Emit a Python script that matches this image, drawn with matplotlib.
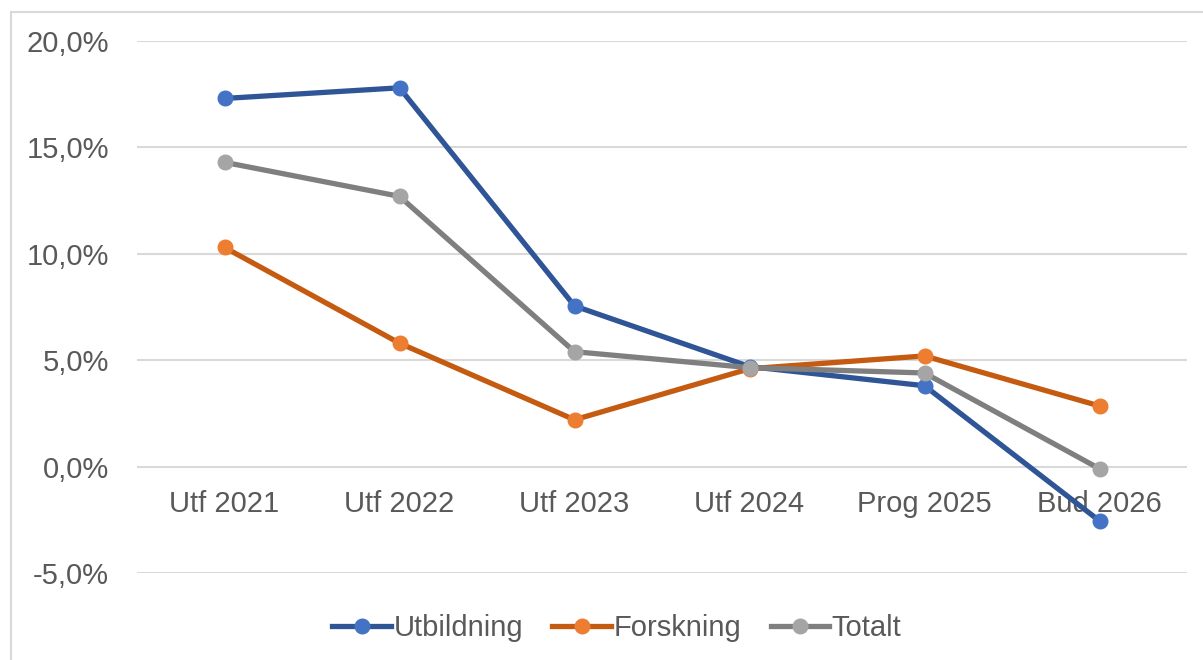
import matplotlib.pyplot as plt
from matplotlib.patches import Rectangle
from matplotlib.ticker import FuncFormatter

# Data
categories = ["Utf 2021", "Utf 2022", "Utf 2023", "Utf 2024", "Prog 2025", "Bud 2026"]
utbildning = [17.3, 17.8, 7.55, 4.7, 3.8, -2.55]
forskning = [10.3, 5.8, 2.2, 4.6, 5.2, 2.85]
totalt = [14.3, 12.7, 5.4, 4.65, 4.4, -0.1]

plt.rcParams['font.family'] = ['Liberation Sans', 'DejaVu Sans']

fig = plt.figure(figsize=(12.03, 6.6), dpi=100)
fig.patches.append(Rectangle((11 / 1203, -0.1), 1.2, 1 - 12 / 660 + 0.1,
                             transform=fig.transFigure, fill=False,
                             edgecolor='#D9D9D9', linewidth=1.5))

ax = fig.add_axes([137 / 1203, 87 / 660, 1050 / 1203, 532 / 660])

x = range(len(categories))
series = [
    ("Utbildning", utbildning, '#2F5597', '#4472C4'),
    ("Forskning", forskning, '#C55A11', '#ED7D31'),
    ("Totalt", totalt, '#7F7F7F', '#A5A5A5'),
]
for name, vals, lc, mc in series:
    ax.plot(x, vals, color=lc, linewidth=3.8, marker='o', markersize=10.5,
            markerfacecolor=mc, markeredgecolor=mc, label=name, zorder=3)

ax.set_xlim(-0.5, 5.5)
ax.set_ylim(-5, 20)
ax.set_yticks([-5, 0, 5, 10, 15, 20])
ax.yaxis.set_major_formatter(FuncFormatter(lambda v, p: f"{v:.1f}%".replace('.', ',')))
ax.grid(axis='y', color='#D9D9D9', linewidth=1.5)
ax.set_axisbelow(True)

for s in ['top', 'right', 'left']:
    ax.spines[s].set_visible(False)
ax.spines['bottom'].set_position(('data', 0))
ax.spines['bottom'].set_visible(False)

ax.set_xticks(list(x))
ax.set_xticklabels(categories)
ax.tick_params(axis='x', length=0, pad=17, labelsize=21, labelcolor='#595959')
ax.tick_params(axis='y', length=0, pad=20, labelsize=21, labelcolor='#595959')

leg = fig.legend(loc='center', bbox_to_anchor=(617 / 1203, 1 - 628 / 660), ncol=3,
                 frameon=False, fontsize=21, handlelength=2.0, handletextpad=0.1,
                 columnspacing=1.0, labelcolor='#595959')

fig.savefig('out.png', dpi=100)
